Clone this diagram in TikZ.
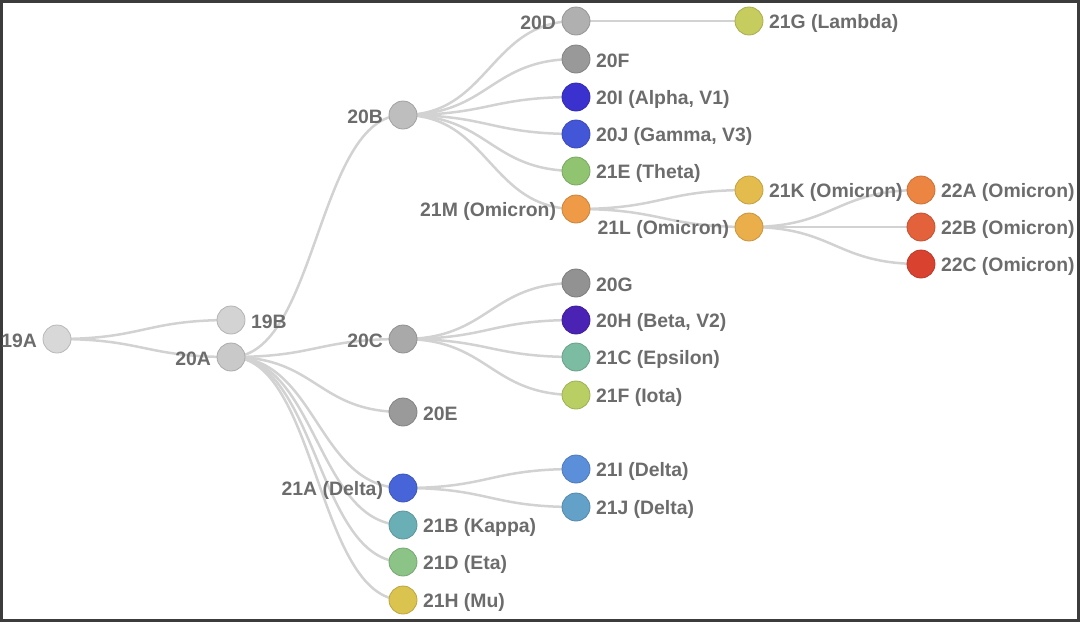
\documentclass[tikz,border=0pt]{standalone}
\usepackage{fontspec}
\setmainfont{Liberation Sans}
\usepackage{tikz}
\usetikzlibrary{calc}

\definecolor{linkgray}{HTML}{D2D2D2}
\definecolor{textgray}{HTML}{6C6C6C}
\definecolor{framegray}{HTML}{3C3C3C}
\definecolor{c19A}{HTML}{D8D8D8}
\definecolor{c19B}{HTML}{D3D3D3}
\definecolor{c20A}{HTML}{C9C9C9}
\definecolor{c20B}{HTML}{BEBEBE}
\definecolor{c20C}{HTML}{A9A9A9}
\definecolor{c20D}{HTML}{B0B0B0}
\definecolor{c20E}{HTML}{9A9A9A}
\definecolor{c20F}{HTML}{999999}
\definecolor{c20G}{HTML}{929292}
\definecolor{c20H}{HTML}{4A22B4}
\definecolor{c20I}{HTML}{3B31CF}
\definecolor{c20J}{HTML}{4356D8}
\definecolor{c21A}{HTML}{4765D8}
\definecolor{c21B}{HTML}{6BAFB6}
\definecolor{c21C}{HTML}{7BBCA2}
\definecolor{c21D}{HTML}{8CC387}
\definecolor{c21E}{HTML}{90C470}
\definecolor{c21F}{HTML}{B9CF63}
\definecolor{c21G}{HTML}{C6CC5E}
\definecolor{c21H}{HTML}{DAC34F}
\definecolor{c21I}{HTML}{5B8FDA}
\definecolor{c21J}{HTML}{63A1C9}
\definecolor{c21K}{HTML}{E4BC4D}
\definecolor{c21L}{HTML}{EAAE4B}
\definecolor{c21M}{HTML}{EE9A46}
\definecolor{c22A}{HTML}{EB8541}
\definecolor{c22B}{HTML}{E3613B}
\definecolor{c22C}{HTML}{DA4230}

\pgfdeclarelayer{links}
\pgfsetlayers{links,main}

\begin{document}
\begin{tikzpicture}[
		x=0.5pt, y=-0.5pt,
		clade/.style={circle, fill=#1, draw=#1!85!black, line width=0.4pt,
			minimum size=14pt, inner sep=0pt},
		every label/.style={font=\bfseries\fontsize{9.7}{11}\selectfont,
			text=textgray, inner sep=0pt, yshift=-1pt},
		label distance=2.6pt,
		link/.style={draw=linkgray, line width=1.25pt,
			to path={let \p1=(\tikztostart), \p2=(\tikztotarget) in
				(\p1) .. controls ({0.5*\x1+0.5*\x2},\y1) and ({0.5*\x1+0.5*\x2},\y2) .. (\p2)}},
	]

		\useasboundingbox (0,0) rectangle (1080,622);
		\draw[framegray, line width=1.4pt] (1.2,1.2) rectangle (1078.8,620.6);

		% clades
		\node[clade=c19A, label=left:{19A}] (n19A) at (57, 339) {};
		\node[clade=c19B, label=right:{19B}] (n19B) at (231, 320) {};
		\node[clade=c20A, label=left:{20A}] (n20A) at (231, 357) {};

		\node[clade=c20B, label=left:{20B}] (n20B) at (403, 115) {};
		\node[clade=c20C, label=left:{20C}] (n20C) at (403, 339) {};
		\node[clade=c20E, label=right:{20E}] (n20E) at (403, 412) {};
		\node[clade=c21A, label=left:{21A (Delta)}] (n21A) at (403, 488) {};
		\node[clade=c21B, label=right:{21B (Kappa)}] (n21B) at (403, 525) {};
		\node[clade=c21D, label=right:{21D (Eta)}] (n21D) at (403, 562) {};
		\node[clade=c21H, label=right:{21H (Mu)}] (n21H) at (403, 600) {};

		\node[clade=c20D, label=left:{20D}] (n20D) at (576, 21) {};
		\node[clade=c20F, label=right:{20F}] (n20F) at (576, 59) {};
		\node[clade=c20I, label=right:{20I (Alpha, V1)}] (n20I) at (576, 97) {};
		\node[clade=c20J, label=right:{20J (Gamma, V3)}] (n20J) at (576, 134) {};
		\node[clade=c21E, label=right:{21E (Theta)}] (n21E) at (576, 171) {};
		\node[clade=c21M, label=left:{21M (Omicron)}] (n21M) at (576, 209) {};
		\node[clade=c20G, label=right:{20G}] (n20G) at (576, 283) {};
		\node[clade=c20H, label=right:{20H (Beta, V2)}] (n20H) at (576, 320) {};
		\node[clade=c21C, label=right:{21C (Epsilon)}] (n21C) at (576, 357) {};
		\node[clade=c21F, label=right:{21F (Iota)}] (n21F) at (576, 395) {};
		\node[clade=c21I, label=right:{21I (Delta)}] (n21I) at (576, 469) {};
		\node[clade=c21J, label=right:{21J (Delta)}] (n21J) at (576, 507) {};

		\node[clade=c21G, label=right:{21G (Lambda)}] (n21G) at (749, 21) {};
		\node[clade=c21K, label=right:{21K (Omicron)}] (n21K) at (749, 190) {};
		\node[clade=c21L, label=left:{21L (Omicron)}] (n21L) at (749, 227) {};

		\node[clade=c22A, label=right:{22A (Omicron)}] (n22A) at (921, 190) {};
		\node[clade=c22B, label=right:{22B (Omicron)}] (n22B) at (921, 227) {};
		\node[clade=c22C, label=right:{22C (Omicron)}] (n22C) at (921, 264) {};

		% descent
		\begin{pgfonlayer}{links}
		\path (n19A) edge[link] (n19B);
		\path (n19A) edge[link] (n20A);
		\path (n20A) edge[link] (n20B);
		\path (n20A) edge[link] (n20C);
		\path (n20A) edge[link] (n20E);
		\path (n20A) edge[link] (n21A);
		\path (n20A) edge[link] (n21B);
		\path (n20A) edge[link] (n21D);
		\path (n20A) edge[link] (n21H);
		\path (n20B) edge[link] (n20D);
		\path (n20B) edge[link] (n20F);
		\path (n20B) edge[link] (n20I);
		\path (n20B) edge[link] (n20J);
		\path (n20B) edge[link] (n21E);
		\path (n20B) edge[link] (n21M);
		\path (n20D) edge[link] (n21G);
		\path (n21M) edge[link] (n21K);
		\path (n21M) edge[link] (n21L);
		\path (n21L) edge[link] (n22A);
		\path (n21L) edge[link] (n22B);
		\path (n21L) edge[link] (n22C);
		\path (n20C) edge[link] (n20G);
		\path (n20C) edge[link] (n20H);
		\path (n20C) edge[link] (n21C);
		\path (n20C) edge[link] (n21F);
		\path (n21A) edge[link] (n21I);
		\path (n21A) edge[link] (n21J);
		\end{pgfonlayer}
	\end{tikzpicture}
\end{document}
